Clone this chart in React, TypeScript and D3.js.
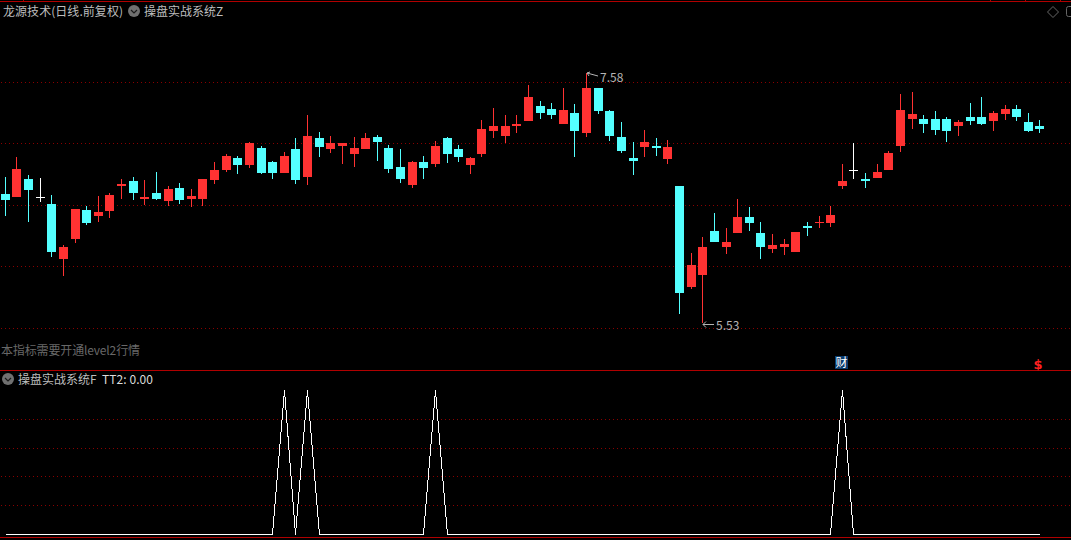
import React from "react";
import * as d3 from "d3";

const highs = [6.729,6.893,6.745,6.720,6.581,6.171,6.466,6.491,6.573,6.597,6.712,6.729,6.704,6.770,6.655,6.679,6.630,6.712,6.852,6.917,6.901,7.016,6.983,6.860,6.934,7.048,7.237,7.098,7.065,7.007,7.057,7.089,7.073,6.991,6.958,6.860,6.901,7.024,7.057,6.991,6.893,7.196,7.294,7.237,7.237,7.483,7.352,7.335,7.458,7.327,7.581,7.458,7.278,7.180,7.016,7.114,7.048,7.032,6.655,6.105,6.237,6.433,6.310,6.548,6.483,6.360,6.261,6.220,6.278,6.360,6.409,6.491,6.835,7.007,6.761,6.835,6.942,7.409,7.426,7.237,7.270,7.221,7.196,7.335,7.385,7.270,7.319,7.319,7.253,7.196];
const lows = [6.409,6.565,6.360,6.524,6.073,5.917,6.187,6.335,6.360,6.392,6.548,6.540,6.499,6.540,6.491,6.507,6.483,6.491,6.671,6.770,6.753,6.802,6.753,6.712,6.761,6.671,6.663,6.893,6.925,6.835,6.811,6.958,6.860,6.761,6.679,6.638,6.712,6.811,6.843,6.852,6.753,6.893,7.048,7.007,7.089,7.188,7.204,7.204,7.163,6.893,7.057,7.245,7.024,6.925,6.745,6.893,6.901,6.835,5.605,5.810,5.531,6.196,6.097,6.269,6.286,6.056,6.105,6.089,6.114,6.245,6.310,6.319,6.630,6.712,6.638,6.720,6.786,6.934,7.122,7.089,7.073,7.016,7.065,7.155,7.155,7.106,7.196,7.188,7.098,7.089];
const opens = [6.589,6.565,6.712,6.561,6.507,6.056,6.220,6.458,6.409,6.450,6.655,6.696,6.548,6.597,6.532,6.638,6.548,6.548,6.704,6.786,6.884,6.827,6.966,6.852,6.761,6.958,6.729,7.048,6.958,6.983,6.917,6.958,7.057,6.966,6.811,6.663,6.852,6.835,7.048,6.958,6.827,6.917,7.106,7.065,7.147,7.188,7.311,7.286,7.163,7.253,7.089,7.458,7.270,7.057,6.884,6.975,6.983,6.876,6.655,5.827,5.925,6.286,6.155,6.269,6.401,6.269,6.138,6.155,6.114,6.327,6.351,6.351,6.655,6.782,6.712,6.720,6.786,6.983,7.204,7.204,7.204,7.204,7.147,7.221,7.221,7.188,7.245,7.286,7.180,7.147];
const closes = [6.540,6.794,6.622,6.561,6.114,6.155,6.466,6.351,6.442,6.581,6.671,6.597,6.565,6.548,6.630,6.540,6.573,6.712,6.786,6.901,6.827,7.007,6.761,6.761,6.901,6.704,7.065,6.975,7.007,7.007,6.966,7.048,7.016,6.794,6.712,6.852,6.802,6.983,6.917,6.893,6.884,7.122,7.147,7.147,7.163,7.385,7.253,7.237,7.278,7.106,7.458,7.270,7.065,6.942,6.860,7.016,6.966,6.975,5.777,6.007,6.155,6.196,6.196,6.401,6.351,6.155,6.171,6.179,6.278,6.310,6.360,6.417,6.696,6.782,6.696,6.770,6.925,7.278,7.245,7.163,7.114,7.106,7.180,7.188,7.163,7.253,7.286,7.221,7.106,7.122];
const peakIndexes = [24, 26, 37, 72];
const tt2 = highs.map((_, i) => (peakIndexes.includes(i) ? 1 : 0));
const priceGrid = [7.503, 7.003, 6.495, 5.995, 5.486];
const indicatorGrid = [0.2, 0.4, 0.6, 0.8];
const maxLabel = "7.58";
const minLabel = "5.53";
const maxIdx = 50;
const minIdx = 60;

const W = 1071;
const H = 540;
const RED = "#ff3232";
const CYAN = "#54ffff";
const LINE = "#b00000";
const GRID = "#8a0000";
const FONT = "'Noto Sans CJK SC', sans-serif";

const x = d3.scaleLinear().domain([0, 89]).range([5.3, 1039.9]);
const y = d3.scaleLinear().domain([5.531, 7.581]).range([323, 73]);
const yInd = d3.scaleLinear().domain([0, 1]).range([534.5, 390.5]);
const indLine = d3.line<number>().x((_, i) => Math.floor(x(i)) + 0.5).y((d) => yInd(d));

function Chevron({ cx, cy }: { cx: number; cy: number }) {
  return (
    <g>
      <circle cx={cx} cy={cy} r={6} fill="#707070" />
      <path d={`M${cx - 3} ${cy - 1}L${cx} ${cy + 2}L${cx + 3} ${cy - 1}`} fill="none" stroke="#1a1a1a" strokeWidth={1.2} />
    </g>
  );
}

export default function App() {
  return (
    <svg width={W} height={H} style={{ position: "absolute", left: 0, top: 0, background: "#000", display: "block" }}>
      <rect width={W} height={H} fill="#000" />
      <g shapeRendering="crispEdges">
        <rect x={0} y={1} width={W} height={1} fill={LINE} />
        {[23, 990, 1025, 1060].map((t) => (
          <rect key={t} x={t} y={0} width={1} height={1} fill={LINE} />
        ))}
        <rect x={0} y={370} width={W} height={1} fill={LINE} />
        <rect x={0} y={537} width={W} height={1} fill={LINE} />
        {priceGrid.map((p) => (
          <line key={p} x1={1} x2={W} y1={Math.floor(y(p)) + 0.5} y2={Math.floor(y(p)) + 0.5} stroke={GRID} strokeDasharray="1 3" />
        ))}
        {indicatorGrid.map((p) => (
          <line key={p} x1={1} x2={W} y1={Math.floor(yInd(p)) + 0.5} y2={Math.floor(yInd(p)) + 0.5} stroke={GRID} strokeDasharray="1 3" />
        ))}
        {highs.map((h, i) => {
          const c = closes[i];
          const o = opens[i];
          const color = c === o ? "#ffffff" : c > o ? RED : CYAN;
          const px = Math.floor(x(i));
          const top = Math.round(y(Math.max(o, c)));
          const bottom = Math.round(y(Math.min(o, c)));
          const wt = Math.round(y(h));
          const wb = Math.round(y(lows[i]));
          return (
            <g key={i} fill={color}>
              <rect x={px} y={wt} width={1} height={Math.max(1, wb - wt)} />
              <rect x={px - 4} y={top} width={9} height={Math.max(1, bottom - top)} />
            </g>
          );
        })}
      </g>
      <path d={indLine(tt2) || ""} fill="none" stroke="#fff" strokeWidth={1} shapeRendering="crispEdges" />

      <g fontFamily={FONT} fontSize={12} fill="#bdbdbd">
        <text x={3} y={16} textLength={120} lengthAdjust="spacing">龙源技术(日线.前复权)</text>
        <text x={144} y={16}>操盘实战系统Z</text>
        <text x={1} y={355} fill="#686868" textLength={139} lengthAdjust="spacing">本指标需要开通level2行情</text>
        <text x={18} y={384}>操盘实战系统F</text>
        <text x={102} y={384} fill="#dcdcdc" textLength={51} lengthAdjust="spacing">TT2: 0.00</text>
        <text x={600} y={82} fill="#b4b4b4">{maxLabel}</text>
        <text x={716} y={330} fill="#b4b4b4">{minLabel}</text>
      </g>
      <Chevron cx={134} cy={11} />
      <Chevron cx={8} cy={379} />
      <path d={`M${Math.floor(x(maxIdx)) + 1} 73L${Math.floor(x(maxIdx)) + 12} 76M${Math.floor(x(maxIdx)) + 1} 73l3 -1M${Math.floor(x(maxIdx)) + 1} 73l2 3`} stroke="#b4b4b4" fill="none" />
      <path d={`M${Math.floor(x(minIdx)) + 1} 324.5H${Math.floor(x(minIdx)) + 12}M${Math.floor(x(minIdx)) + 1} 324.5l3 -3M${Math.floor(x(minIdx)) + 1} 324.5l3 3`} stroke="#b4b4b4" fill="none" />

      <rect x={835} y={356} width={13} height={13} fill="#0a3c6e" />
      <text x={841.5} y={367} textAnchor="middle" fontFamily={FONT} fontSize={12} fill="#fff">财</text>
      <text x={1038} y={369} textAnchor="middle" fontFamily="'DejaVu Sans', sans-serif" fontSize={13} fontWeight="bold" fill="#ff2020">$</text>

      <path d="M1053 6.5L1058.5 12L1053 17.5L1047.5 12Z" fill="none" stroke="#666" />
      <path d="M1071 6.5H1068.5Q1066.5 6.5 1066.5 8.5V14.5Q1066.5 16.5 1068.5 16.5H1071" fill="none" stroke="#666" />
    </svg>
  );
}
